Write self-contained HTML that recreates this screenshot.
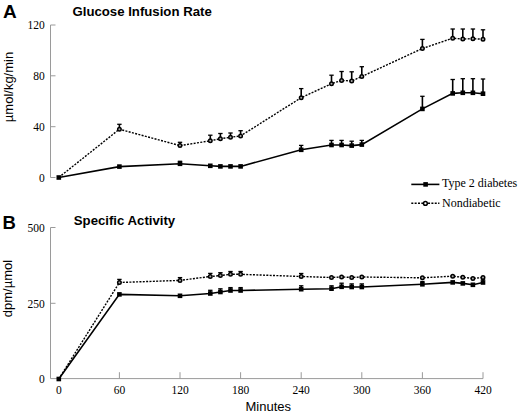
<!DOCTYPE html>
<html><head><meta charset="utf-8"><style>
html,body{margin:0;padding:0;background:#fff;width:520px;height:415px;overflow:hidden}
svg{display:block}
</style></head><body>
<svg width="520" height="415" viewBox="0 0 520 415">
<path d="M50.5,25 V177.5 H55.5 M50.5,25 H55.5 M50.5,75.8 H55.5 M50.5,126.7 H55.5" fill="none" stroke="#9a9a9a" stroke-width="1"/>
<path d="M50.5,227.5 V378.6 H483.0 M50.5,227.5 H55.5 M50.5,303.3 H55.5 M119.4,378.6 V372.2 M180.0,378.6 V372.2 M240.6,378.6 V372.2 M301.2,378.6 V372.2 M361.8,378.6 V372.2 M422.4,378.6 V372.2 M483.0,378.6 V372.2" fill="none" stroke="#9a9a9a" stroke-width="1"/>
<polyline points="58.8,177.5 119.4,129.2 180.0,145.6 210.3,140.8 220.4,138.7 230.5,137.3 240.6,135.9 301.2,97.7 331.5,83.7 341.6,80.4 351.7,81.0 361.8,76.5 422.4,48.5 452.7,38.2 462.8,39.0 472.9,38.7 483.0,39.2" fill="none" stroke="#000" stroke-width="1.4" stroke-dasharray="2,1.35"/>
<polyline points="58.8,177.5 119.4,166.6 180.0,163.8 210.3,165.8 220.4,166.4 230.5,166.4 240.6,166.4 301.2,149.8 331.5,145.0 341.6,145.0 351.7,145.6 361.8,144.6 422.4,108.9 452.7,93.4 462.8,92.8 472.9,92.8 483.0,93.7" fill="none" stroke="#000" stroke-width="1.6"/>
<line x1="119.4" y1="129.2" x2="119.4" y2="124.3" stroke="#000" stroke-width="1.6"/>
<line x1="117.2" y1="124.3" x2="121.6" y2="124.3" stroke="#000" stroke-width="1.3"/>
<line x1="180.0" y1="145.6" x2="180.0" y2="142.3" stroke="#000" stroke-width="1.6"/>
<line x1="177.8" y1="142.3" x2="182.2" y2="142.3" stroke="#000" stroke-width="1.3"/>
<line x1="210.3" y1="140.8" x2="210.3" y2="135.2" stroke="#000" stroke-width="1.6"/>
<line x1="208.1" y1="135.2" x2="212.5" y2="135.2" stroke="#000" stroke-width="1.3"/>
<line x1="220.4" y1="138.7" x2="220.4" y2="133.5" stroke="#000" stroke-width="1.6"/>
<line x1="218.2" y1="133.5" x2="222.6" y2="133.5" stroke="#000" stroke-width="1.3"/>
<line x1="230.5" y1="137.3" x2="230.5" y2="133.0" stroke="#000" stroke-width="1.6"/>
<line x1="228.3" y1="133.0" x2="232.7" y2="133.0" stroke="#000" stroke-width="1.3"/>
<line x1="240.6" y1="135.9" x2="240.6" y2="130.7" stroke="#000" stroke-width="1.6"/>
<line x1="238.4" y1="130.7" x2="242.8" y2="130.7" stroke="#000" stroke-width="1.3"/>
<line x1="301.2" y1="97.7" x2="301.2" y2="88.6" stroke="#000" stroke-width="1.6"/>
<line x1="299.0" y1="88.6" x2="303.4" y2="88.6" stroke="#000" stroke-width="1.3"/>
<line x1="331.5" y1="83.7" x2="331.5" y2="75.2" stroke="#000" stroke-width="1.6"/>
<line x1="329.3" y1="75.2" x2="333.7" y2="75.2" stroke="#000" stroke-width="1.3"/>
<line x1="341.6" y1="80.4" x2="341.6" y2="71.5" stroke="#000" stroke-width="1.6"/>
<line x1="339.4" y1="71.5" x2="343.8" y2="71.5" stroke="#000" stroke-width="1.3"/>
<line x1="351.7" y1="81.0" x2="351.7" y2="71.8" stroke="#000" stroke-width="1.6"/>
<line x1="349.5" y1="71.8" x2="353.9" y2="71.8" stroke="#000" stroke-width="1.3"/>
<line x1="361.8" y1="76.5" x2="361.8" y2="66.7" stroke="#000" stroke-width="1.6"/>
<line x1="359.6" y1="66.7" x2="364.0" y2="66.7" stroke="#000" stroke-width="1.3"/>
<line x1="422.4" y1="48.5" x2="422.4" y2="39.4" stroke="#000" stroke-width="1.6"/>
<line x1="420.2" y1="39.4" x2="424.6" y2="39.4" stroke="#000" stroke-width="1.3"/>
<line x1="452.7" y1="38.2" x2="452.7" y2="29.0" stroke="#000" stroke-width="1.6"/>
<line x1="450.5" y1="29.0" x2="454.9" y2="29.0" stroke="#000" stroke-width="1.3"/>
<line x1="462.8" y1="39.0" x2="462.8" y2="29.0" stroke="#000" stroke-width="1.6"/>
<line x1="460.6" y1="29.0" x2="465.0" y2="29.0" stroke="#000" stroke-width="1.3"/>
<line x1="472.9" y1="38.7" x2="472.9" y2="29.0" stroke="#000" stroke-width="1.6"/>
<line x1="470.7" y1="29.0" x2="475.1" y2="29.0" stroke="#000" stroke-width="1.3"/>
<line x1="483.0" y1="39.2" x2="483.0" y2="29.8" stroke="#000" stroke-width="1.6"/>
<line x1="480.8" y1="29.8" x2="485.2" y2="29.8" stroke="#000" stroke-width="1.3"/>
<line x1="180.0" y1="163.8" x2="180.0" y2="161.3" stroke="#000" stroke-width="1.6"/>
<line x1="177.8" y1="161.3" x2="182.2" y2="161.3" stroke="#000" stroke-width="1.3"/>
<line x1="301.2" y1="149.8" x2="301.2" y2="145.4" stroke="#000" stroke-width="1.6"/>
<line x1="299.0" y1="145.4" x2="303.4" y2="145.4" stroke="#000" stroke-width="1.3"/>
<line x1="331.5" y1="145.0" x2="331.5" y2="140.4" stroke="#000" stroke-width="1.6"/>
<line x1="329.3" y1="140.4" x2="333.7" y2="140.4" stroke="#000" stroke-width="1.3"/>
<line x1="341.6" y1="145.0" x2="341.6" y2="140.4" stroke="#000" stroke-width="1.6"/>
<line x1="339.4" y1="140.4" x2="343.8" y2="140.4" stroke="#000" stroke-width="1.3"/>
<line x1="351.7" y1="145.6" x2="351.7" y2="141.2" stroke="#000" stroke-width="1.6"/>
<line x1="349.5" y1="141.2" x2="353.9" y2="141.2" stroke="#000" stroke-width="1.3"/>
<line x1="361.8" y1="144.6" x2="361.8" y2="140.4" stroke="#000" stroke-width="1.6"/>
<line x1="359.6" y1="140.4" x2="364.0" y2="140.4" stroke="#000" stroke-width="1.3"/>
<line x1="422.4" y1="108.9" x2="422.4" y2="96.3" stroke="#000" stroke-width="1.6"/>
<line x1="420.2" y1="96.3" x2="424.6" y2="96.3" stroke="#000" stroke-width="1.3"/>
<line x1="452.7" y1="93.4" x2="452.7" y2="79.5" stroke="#000" stroke-width="1.6"/>
<line x1="450.5" y1="79.5" x2="454.9" y2="79.5" stroke="#000" stroke-width="1.3"/>
<line x1="462.8" y1="92.8" x2="462.8" y2="78.7" stroke="#000" stroke-width="1.6"/>
<line x1="460.6" y1="78.7" x2="465.0" y2="78.7" stroke="#000" stroke-width="1.3"/>
<line x1="472.9" y1="92.8" x2="472.9" y2="78.7" stroke="#000" stroke-width="1.6"/>
<line x1="470.7" y1="78.7" x2="475.1" y2="78.7" stroke="#000" stroke-width="1.3"/>
<line x1="483.0" y1="93.7" x2="483.0" y2="79.0" stroke="#000" stroke-width="1.6"/>
<line x1="480.8" y1="79.0" x2="485.2" y2="79.0" stroke="#000" stroke-width="1.3"/>
<rect x="56.5" y="175.2" width="4.6" height="4.6" fill="#000"/>
<rect x="117.1" y="164.3" width="4.6" height="4.6" fill="#000"/>
<rect x="177.7" y="161.5" width="4.6" height="4.6" fill="#000"/>
<rect x="208.0" y="163.5" width="4.6" height="4.6" fill="#000"/>
<rect x="218.1" y="164.1" width="4.6" height="4.6" fill="#000"/>
<rect x="228.2" y="164.1" width="4.6" height="4.6" fill="#000"/>
<rect x="238.3" y="164.1" width="4.6" height="4.6" fill="#000"/>
<rect x="298.9" y="147.5" width="4.6" height="4.6" fill="#000"/>
<rect x="329.2" y="142.7" width="4.6" height="4.6" fill="#000"/>
<rect x="339.3" y="142.7" width="4.6" height="4.6" fill="#000"/>
<rect x="349.4" y="143.3" width="4.6" height="4.6" fill="#000"/>
<rect x="359.5" y="142.3" width="4.6" height="4.6" fill="#000"/>
<rect x="420.1" y="106.6" width="4.6" height="4.6" fill="#000"/>
<rect x="450.4" y="91.1" width="4.6" height="4.6" fill="#000"/>
<rect x="460.5" y="90.5" width="4.6" height="4.6" fill="#000"/>
<rect x="470.6" y="90.5" width="4.6" height="4.6" fill="#000"/>
<rect x="480.7" y="91.4" width="4.6" height="4.6" fill="#000"/>
<circle cx="119.4" cy="129.2" r="1.75" fill="#aaa" stroke="#000" stroke-width="1.5"/>
<circle cx="180.0" cy="145.6" r="1.75" fill="#aaa" stroke="#000" stroke-width="1.5"/>
<circle cx="210.3" cy="140.8" r="1.75" fill="#aaa" stroke="#000" stroke-width="1.5"/>
<circle cx="220.4" cy="138.7" r="1.75" fill="#aaa" stroke="#000" stroke-width="1.5"/>
<circle cx="230.5" cy="137.3" r="1.75" fill="#aaa" stroke="#000" stroke-width="1.5"/>
<circle cx="240.6" cy="135.9" r="1.75" fill="#aaa" stroke="#000" stroke-width="1.5"/>
<circle cx="301.2" cy="97.7" r="1.75" fill="#aaa" stroke="#000" stroke-width="1.5"/>
<circle cx="331.5" cy="83.7" r="1.75" fill="#aaa" stroke="#000" stroke-width="1.5"/>
<circle cx="341.6" cy="80.4" r="1.75" fill="#aaa" stroke="#000" stroke-width="1.5"/>
<circle cx="351.7" cy="81.0" r="1.75" fill="#aaa" stroke="#000" stroke-width="1.5"/>
<circle cx="361.8" cy="76.5" r="1.75" fill="#aaa" stroke="#000" stroke-width="1.5"/>
<circle cx="422.4" cy="48.5" r="1.75" fill="#aaa" stroke="#000" stroke-width="1.5"/>
<circle cx="452.7" cy="38.2" r="1.75" fill="#aaa" stroke="#000" stroke-width="1.5"/>
<circle cx="462.8" cy="39.0" r="1.75" fill="#aaa" stroke="#000" stroke-width="1.5"/>
<circle cx="472.9" cy="38.7" r="1.75" fill="#aaa" stroke="#000" stroke-width="1.5"/>
<circle cx="483.0" cy="39.2" r="1.75" fill="#aaa" stroke="#000" stroke-width="1.5"/>
<polyline points="58.8,379.0 119.4,282.5 180.0,280.4 210.3,276.5 220.4,275.6 230.5,274.3 240.6,274.3 301.2,276.5 331.5,277.5 341.6,277.0 351.7,277.4 361.8,277.0 422.4,277.8 452.7,276.2 462.8,277.3 472.9,278.4 483.0,277.6" fill="none" stroke="#000" stroke-width="1.4" stroke-dasharray="2,1.35"/>
<polyline points="58.8,379.0 119.4,294.4 180.0,295.8 210.3,293.5 220.4,292.0 230.5,290.5 240.6,290.5 301.2,289.2 331.5,288.7 341.6,286.8 351.7,287.0 361.8,287.0 422.4,284.3 452.7,282.4 462.8,283.4 472.9,284.8 483.0,282.5" fill="none" stroke="#000" stroke-width="1.6"/>
<line x1="119.4" y1="282.5" x2="119.4" y2="279.4" stroke="#000" stroke-width="1.6"/>
<line x1="117.2" y1="279.4" x2="121.6" y2="279.4" stroke="#000" stroke-width="1.3"/>
<line x1="180.0" y1="280.4" x2="180.0" y2="277.6" stroke="#000" stroke-width="1.6"/>
<line x1="177.8" y1="277.6" x2="182.2" y2="277.6" stroke="#000" stroke-width="1.3"/>
<line x1="210.3" y1="276.5" x2="210.3" y2="273.4" stroke="#000" stroke-width="1.6"/>
<line x1="208.1" y1="273.4" x2="212.5" y2="273.4" stroke="#000" stroke-width="1.3"/>
<line x1="220.4" y1="275.6" x2="220.4" y2="272.7" stroke="#000" stroke-width="1.6"/>
<line x1="218.2" y1="272.7" x2="222.6" y2="272.7" stroke="#000" stroke-width="1.3"/>
<line x1="230.5" y1="274.3" x2="230.5" y2="271.5" stroke="#000" stroke-width="1.6"/>
<line x1="228.3" y1="271.5" x2="232.7" y2="271.5" stroke="#000" stroke-width="1.3"/>
<line x1="240.6" y1="274.3" x2="240.6" y2="271.5" stroke="#000" stroke-width="1.6"/>
<line x1="238.4" y1="271.5" x2="242.8" y2="271.5" stroke="#000" stroke-width="1.3"/>
<line x1="301.2" y1="276.5" x2="301.2" y2="273.5" stroke="#000" stroke-width="1.6"/>
<line x1="299.0" y1="273.5" x2="303.4" y2="273.5" stroke="#000" stroke-width="1.3"/>
<line x1="210.3" y1="293.5" x2="210.3" y2="290.3" stroke="#000" stroke-width="1.6"/>
<line x1="208.1" y1="290.3" x2="212.5" y2="290.3" stroke="#000" stroke-width="1.3"/>
<line x1="220.4" y1="292.0" x2="220.4" y2="288.8" stroke="#000" stroke-width="1.6"/>
<line x1="218.2" y1="288.8" x2="222.6" y2="288.8" stroke="#000" stroke-width="1.3"/>
<line x1="230.5" y1="290.5" x2="230.5" y2="287.6" stroke="#000" stroke-width="1.6"/>
<line x1="228.3" y1="287.6" x2="232.7" y2="287.6" stroke="#000" stroke-width="1.3"/>
<line x1="240.6" y1="290.5" x2="240.6" y2="287.6" stroke="#000" stroke-width="1.6"/>
<line x1="238.4" y1="287.6" x2="242.8" y2="287.6" stroke="#000" stroke-width="1.3"/>
<line x1="301.2" y1="289.2" x2="301.2" y2="285.8" stroke="#000" stroke-width="1.6"/>
<line x1="299.0" y1="285.8" x2="303.4" y2="285.8" stroke="#000" stroke-width="1.3"/>
<line x1="331.5" y1="288.7" x2="331.5" y2="285.8" stroke="#000" stroke-width="1.6"/>
<line x1="329.3" y1="285.8" x2="333.7" y2="285.8" stroke="#000" stroke-width="1.3"/>
<line x1="341.6" y1="286.8" x2="341.6" y2="283.2" stroke="#000" stroke-width="1.6"/>
<line x1="339.4" y1="283.2" x2="343.8" y2="283.2" stroke="#000" stroke-width="1.3"/>
<line x1="351.7" y1="287.0" x2="351.7" y2="283.9" stroke="#000" stroke-width="1.6"/>
<line x1="349.5" y1="283.9" x2="353.9" y2="283.9" stroke="#000" stroke-width="1.3"/>
<line x1="361.8" y1="287.0" x2="361.8" y2="283.9" stroke="#000" stroke-width="1.6"/>
<line x1="359.6" y1="283.9" x2="364.0" y2="283.9" stroke="#000" stroke-width="1.3"/>
<line x1="422.4" y1="284.3" x2="422.4" y2="281.5" stroke="#000" stroke-width="1.6"/>
<line x1="420.2" y1="281.5" x2="424.6" y2="281.5" stroke="#000" stroke-width="1.3"/>
<line x1="483.0" y1="282.5" x2="483.0" y2="279.8" stroke="#000" stroke-width="1.6"/>
<line x1="480.8" y1="279.8" x2="485.2" y2="279.8" stroke="#000" stroke-width="1.3"/>
<rect x="56.5" y="376.7" width="4.6" height="4.6" fill="#000"/>
<rect x="117.1" y="292.1" width="4.6" height="4.6" fill="#000"/>
<rect x="177.7" y="293.5" width="4.6" height="4.6" fill="#000"/>
<rect x="208.0" y="291.2" width="4.6" height="4.6" fill="#000"/>
<rect x="218.1" y="289.7" width="4.6" height="4.6" fill="#000"/>
<rect x="228.2" y="288.2" width="4.6" height="4.6" fill="#000"/>
<rect x="238.3" y="288.2" width="4.6" height="4.6" fill="#000"/>
<rect x="298.9" y="286.9" width="4.6" height="4.6" fill="#000"/>
<rect x="329.2" y="286.4" width="4.6" height="4.6" fill="#000"/>
<rect x="339.3" y="284.5" width="4.6" height="4.6" fill="#000"/>
<rect x="349.4" y="284.7" width="4.6" height="4.6" fill="#000"/>
<rect x="359.5" y="284.7" width="4.6" height="4.6" fill="#000"/>
<rect x="420.1" y="282.0" width="4.6" height="4.6" fill="#000"/>
<rect x="450.4" y="280.1" width="4.6" height="4.6" fill="#000"/>
<rect x="460.5" y="281.1" width="4.6" height="4.6" fill="#000"/>
<rect x="470.6" y="282.5" width="4.6" height="4.6" fill="#000"/>
<rect x="480.7" y="280.2" width="4.6" height="4.6" fill="#000"/>
<circle cx="119.4" cy="282.5" r="1.75" fill="#aaa" stroke="#000" stroke-width="1.5"/>
<circle cx="180.0" cy="280.4" r="1.75" fill="#aaa" stroke="#000" stroke-width="1.5"/>
<circle cx="210.3" cy="276.5" r="1.75" fill="#aaa" stroke="#000" stroke-width="1.5"/>
<circle cx="220.4" cy="275.6" r="1.75" fill="#aaa" stroke="#000" stroke-width="1.5"/>
<circle cx="230.5" cy="274.3" r="1.75" fill="#aaa" stroke="#000" stroke-width="1.5"/>
<circle cx="240.6" cy="274.3" r="1.75" fill="#aaa" stroke="#000" stroke-width="1.5"/>
<circle cx="301.2" cy="276.5" r="1.75" fill="#aaa" stroke="#000" stroke-width="1.5"/>
<circle cx="331.5" cy="277.5" r="1.75" fill="#aaa" stroke="#000" stroke-width="1.5"/>
<circle cx="341.6" cy="277.0" r="1.75" fill="#aaa" stroke="#000" stroke-width="1.5"/>
<circle cx="351.7" cy="277.4" r="1.75" fill="#aaa" stroke="#000" stroke-width="1.5"/>
<circle cx="361.8" cy="277.0" r="1.75" fill="#aaa" stroke="#000" stroke-width="1.5"/>
<circle cx="422.4" cy="277.8" r="1.75" fill="#aaa" stroke="#000" stroke-width="1.5"/>
<circle cx="452.7" cy="276.2" r="1.75" fill="#aaa" stroke="#000" stroke-width="1.5"/>
<circle cx="462.8" cy="277.3" r="1.75" fill="#aaa" stroke="#000" stroke-width="1.5"/>
<circle cx="472.9" cy="278.4" r="1.75" fill="#aaa" stroke="#000" stroke-width="1.5"/>
<circle cx="483.0" cy="277.6" r="1.75" fill="#aaa" stroke="#000" stroke-width="1.5"/>
<line x1="411.3" y1="184.4" x2="439.4" y2="184.4" stroke="#000" stroke-width="1.6"/>
<rect x="423.3" y="182.1" width="4.6" height="4.6" fill="#000"/>
<line x1="411.3" y1="203.3" x2="439.4" y2="203.3" stroke="#000" stroke-width="1.4" stroke-dasharray="2,1.35"/>
<circle cx="425.4" cy="203.4" r="1.9" fill="#fff" stroke="#000" stroke-width="1.5"/>
<text x="44.8" y="29.2" text-anchor="end" font-family="Liberation Serif" font-size="11.5">120</text>
<text x="44.8" y="80.0" text-anchor="end" font-family="Liberation Serif" font-size="11.5">80</text>
<text x="44.8" y="130.9" text-anchor="end" font-family="Liberation Serif" font-size="11.5">40</text>
<text x="44.8" y="181.7" text-anchor="end" font-family="Liberation Serif" font-size="11.5">0</text>
<text x="44.8" y="231.7" text-anchor="end" font-family="Liberation Serif" font-size="11.5">500</text>
<text x="44.8" y="307.5" text-anchor="end" font-family="Liberation Serif" font-size="11.5">250</text>
<text x="44.8" y="383.2" text-anchor="end" font-family="Liberation Serif" font-size="11.5">0</text>
<text x="58.8" y="393.6" text-anchor="middle" font-family="Liberation Serif" font-size="11.5">0</text>
<text x="119.4" y="393.6" text-anchor="middle" font-family="Liberation Serif" font-size="11.5">60</text>
<text x="180.0" y="393.6" text-anchor="middle" font-family="Liberation Serif" font-size="11.5">120</text>
<text x="240.6" y="393.6" text-anchor="middle" font-family="Liberation Serif" font-size="11.5">180</text>
<text x="301.2" y="393.6" text-anchor="middle" font-family="Liberation Serif" font-size="11.5">240</text>
<text x="361.8" y="393.6" text-anchor="middle" font-family="Liberation Serif" font-size="11.5">300</text>
<text x="422.4" y="393.6" text-anchor="middle" font-family="Liberation Serif" font-size="11.5">360</text>
<text x="483.0" y="393.6" text-anchor="middle" font-family="Liberation Serif" font-size="11.5">420</text>
<text x="442" y="187.2" font-family="Liberation Serif" font-size="12">Type 2 diabetes</text>
<text x="442" y="206.5" font-family="Liberation Serif" font-size="12">Nondiabetic</text>
<text x="3" y="18.2" font-family="Liberation Sans" font-weight="bold" font-size="19">A</text>
<text x="2.5" y="228.5" font-family="Liberation Sans" font-weight="bold" font-size="18.5">B</text>
<text x="72.5" y="15.8" font-family="Liberation Sans" font-weight="bold" font-size="13.2">Glucose Infusion Rate</text>
<text x="73.8" y="224.6" font-family="Liberation Sans" font-weight="bold" font-size="13.2">Specific Activity</text>
<text x="268.3" y="411.3" text-anchor="middle" font-family="Liberation Sans" font-size="13">Minutes</text>
<text transform="translate(12.6,87) rotate(-90)" text-anchor="middle" font-family="Liberation Sans" font-size="13">µmol/kg/min</text>
<text transform="translate(12.2,288.5) rotate(-90)" text-anchor="middle" font-family="Liberation Sans" font-size="13">dpm/µmol</text>
</svg>
</body></html>
